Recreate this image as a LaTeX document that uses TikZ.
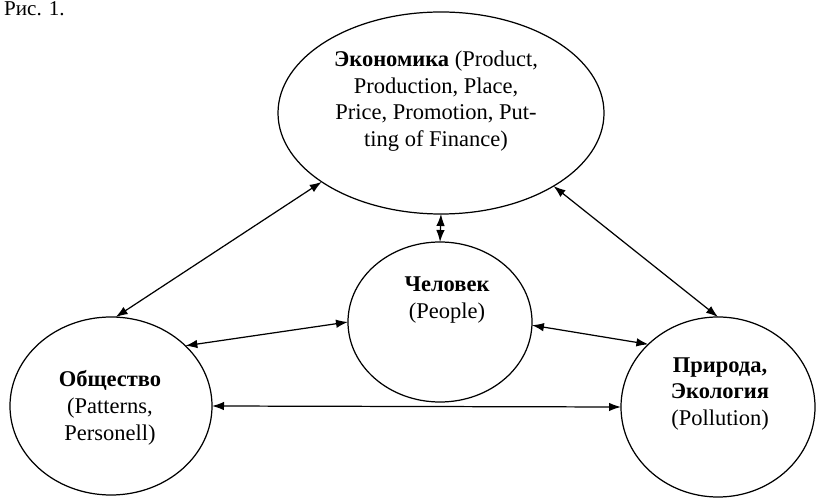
\documentclass[tikz,border=0pt]{standalone}
\usepackage{fontspec}
\setmainfont{Liberation Serif}
\usetikzlibrary{arrows.meta,shapes.geometric}

\begin{document}
\begin{tikzpicture}[
        every node/.style={font=\fontsize{12.8}{15.2}\selectfont},
        oval/.style={
            draw,
            ellipse,
            line width=0.7pt,
            inner sep=0pt,
            outer sep=0pt
        },
        caption/.style={align=center, inner sep=0pt},
        link/.style={{Latex[length=2.4mm,width=1.7mm]}-{Latex[length=2.4mm,width=1.7mm]}, line width=0.7pt}
    ]

    \useasboundingbox (0,0) rectangle (16.34,9.96);

    % =========================
    % figure number
    % =========================
    \node[anchor=north east, inner sep=0pt, font=\fontsize{12}{14}\selectfont] (fignum) at (1.30,9.93) {Рис. 1.};

    % =========================
    % the four spheres
    % =========================
    \node[oval, minimum width=6.52cm, minimum height=4.04cm] (econ) at (8.82,7.70) {};
    \node[oval, minimum width=3.68cm, minimum height=3.20cm] (chel) at (8.80,3.52) {};
    \node[oval, minimum width=4.04cm, minimum height=3.56cm] (obsh) at (2.22,1.84) {};
    \node[oval, minimum width=3.88cm, minimum height=3.60cm] (prir) at (14.36,1.82) {};

    % Texts sit a bit above the centres
    \node[caption] (econtxt) at (8.72,7.94) {\textbf{Экономика} (Product,\\Production, Place,\\Price, Promotion, Put-\\ting of Finance)};
    \node[caption] (cheltxt) at (8.94,3.96) {\textbf{Человек}\\(People)};
    \node[caption] (obshtxt) at (2.20,1.80) {\textbf{Общество}\\(Patterns,\\Personell)};
    \node[caption] (prirtxt) at (14.40,2.08) {\textbf{Природа,}\\\textbf{Экология}\\(Pollution)};

    % =========================
    % links, both ways
    % =========================
    \draw[link] (econ.210) -- (obsh.87);
    \draw[link] (econ.south) -- (chel.north);
    \draw[link] (econ.327) -- (prir.north);

    \draw[link] (chel.west) -- (obsh.39);
    \draw[link] (chel.358) -- (prir.138);

    \draw[link] (obsh.east) -- (prir.west);

    \end{tikzpicture}
\end{document}
